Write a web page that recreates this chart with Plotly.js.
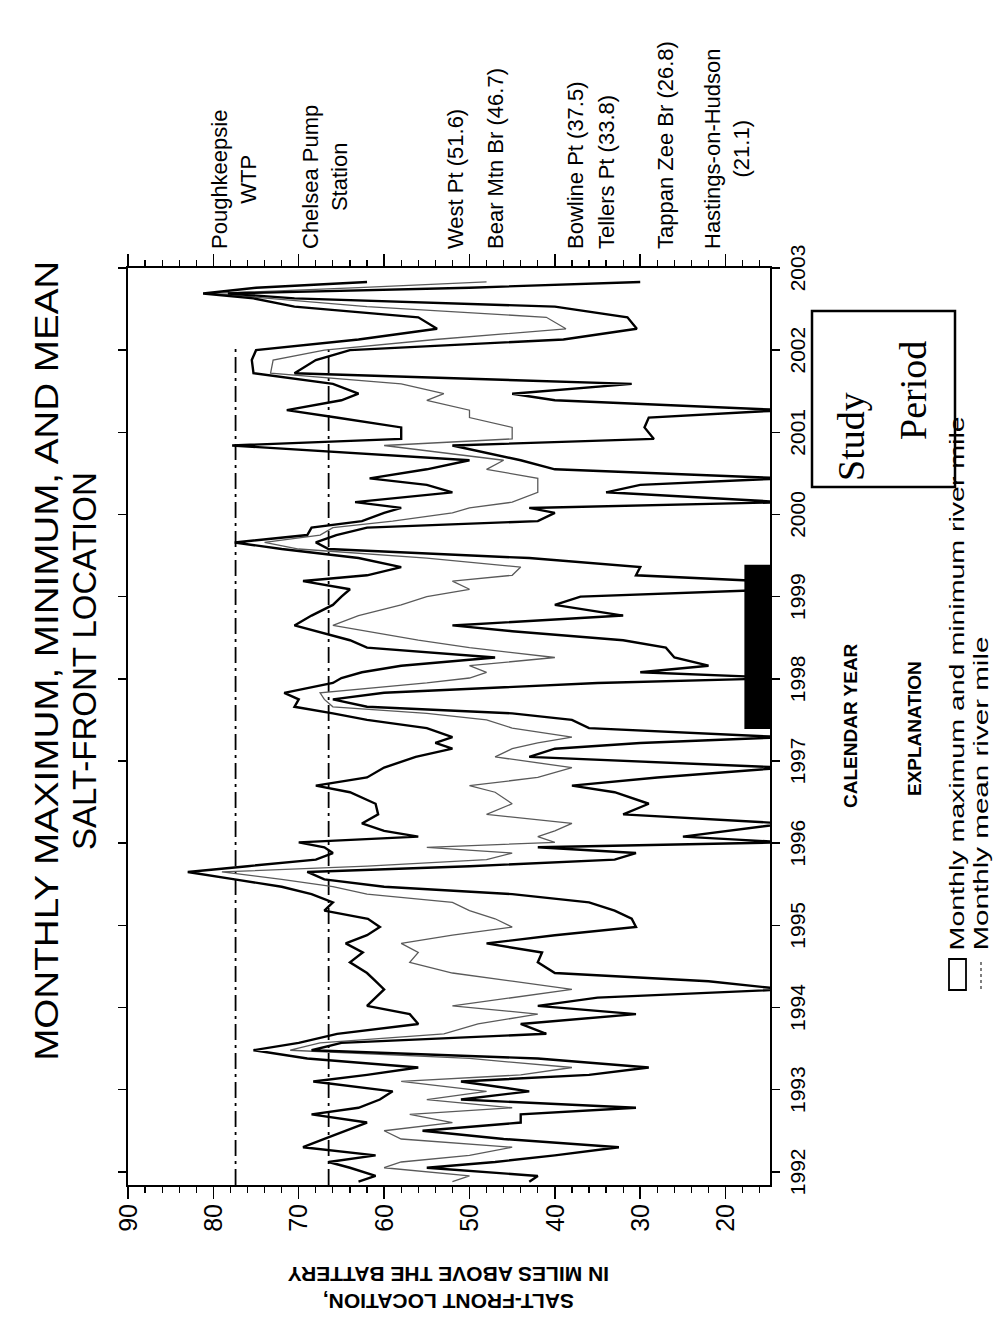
<!DOCTYPE html>
<html><head><meta charset="utf-8">
<script src="https://cdn.plot.ly/plotly-3.0.1.min.js"></script>
<style>
html,body{margin:0;padding:0;background:#fff;overflow:hidden;width:1003px;height:1323px;}
#chart{position:absolute;left:0;top:0;width:1323px;height:1003px;transform-origin:0 0;transform:translate(0px,1323px) rotate(-90deg);}
</style></head><body><div id="chart"></div>
<script>
// decimal calendar year of each reading
const timeYear = [
 1991.88,1991.95,1992.05,1992.12,1992.20,1992.30,1992.40,1992.50,1992.60,1992.70,1992.78,1992.88,1992.98,
 1993.10,1993.18,1993.27,1993.38,1993.48,1993.57,1993.68,1993.80,1993.92,
 1994.02,1994.12,1994.22,1994.32,1994.42,1994.55,1994.67,1994.78,1994.88,1994.98,
 1995.08,1995.18,1995.28,1995.38,1995.47,1995.56,1995.65,1995.72,1995.80,1995.88,1995.95,
 1996.01,1996.08,1996.15,1996.24,1996.35,1996.48,1996.62,1996.70,1996.80,1996.92,
 1997.05,1997.15,1997.22,1997.29,1997.40,1997.50,1997.58,1997.66,1997.75,1997.83,1997.95,
 1998.01,1998.08,1998.16,1998.26,1998.38,1998.47,1998.58,1998.65,1998.77,1998.90,
 1999.00,1999.09,1999.19,1999.26,1999.36,1999.47,1999.58,1999.66,1999.75,1999.84,1999.92,
 2000.02,2000.08,2000.15,2000.27,2000.36,2000.44,2000.55,2000.66,2000.84,2000.92,
 2001.06,2001.18,2001.27,2001.39,2001.47,2001.59,2001.72,2001.88,
 2002.00,2002.13,2002.26,2002.40,2002.53,2002.63,2002.69,2002.76,2002.83
];
// monthly maximum river mile
const maxMile = [
 63,61,64,66.5,61,69.5,67,64.5,62,68.5,63,60.5,59,
 68.3,62,56,69,75.3,70,65.5,56,57,
 62,61,60,61,62,64,62.5,64.5,62,60.5,
 61.9,67,66,68.5,72,77.5,83,76,68,66,67,
 70,56,60,62.6,60.7,61,64,68,62,60,
 56.3,52,54,52,55,62,66,70.5,70,71.7,66,
 65,62.6,58,47,62,64,68,70.5,68.5,66,
 65,64,69.5,62,58,63,72,77.5,69,68.5,62.6,
 60,58,63.4,52,55,61.7,55,50,77.8,58,
 58,65.6,71.4,65,63,66,75.3,75.5,
 75,63,53.8,56,70.5,75.3,81.2,75,62
];
// monthly mean river mile
const meanMile = [
 52,50,60,58,50,45,58,60,52,57,45,55,48,
 58,44,38,50,71,67.5,53,49,42,
 52,45,38,45,52,57,56,58,52,45,
 47,50,52,62,66,72,79,62,48,45,55,
 40,42,40,38,48,45,47,50,42,38,
 47,45,42,38,45,48,55,66,67,67.5,55,
 50,48,50,40,50,56,62,66,63,58,
 55,50,52,45,44,55,70,74,67.5,66,59,
 52,50,45,42,42,42,48,46,60,45,
 45,50,50,55,53,58,73.3,73,
 67,54,38.7,41,62,73,80.2,63,48
];
// monthly minimum river mile
const minMile = [
 43,42,55,47,40,32.5,46,55.5,44,44,30.5,51,43,
 51,36,29,42,68.5,65,41,44,30.5,
 42,35,13,22,40,42,41.5,48,40,30.5,
 31,33,36,45,60,67,69,50,33,30.5,42,
 13,25,20,13,32,29,33,38,28,13,
 43,40,30,13,36,38,45,62,66,60,35,
 13,30,22,26,27,32,45,52,32,40,
 37,13,16,30.5,30,43,66.5,68,65.6,62,42,
 40,43,13,34,30,13,40,44,52,28.4,
 29.5,29,13,40,45,31,70.5,68,
 64,39,30.4,31.5,40,70.5,78.3,50,30
];
const yearTicks = [1992,1993,1994,1995,1996,1997,1998,1999,2000,2001,2002,2003];
const mileTicks = [20,30,40,50,60,70,80,90];
// water-intake reference lines (river mile) and the years they span
const intakeMiles = [77.4, 66.5];
const intakeSpan = [1991.84, 2002.05];
// station labels on the right-hand axis and their river-mile positions
const stationLabels = ['Poughkeepsie<br>WTP','Chelsea Pump<br>Station','West Pt (51.6)','Bear Mtn Br (46.7)',
 'Bowline Pt (37.5)','Tellers Pt (33.8)','Tappan Zee Br (26.8)','Hastings-on-Hudson<br>(21.1)'];
const stationMiles = [77.6, 66.9, 51.6, 46.9, 37.6, 33.9, 27.0, 19.8];
const studyPeriod = [1997.39, 1999.39];

const W = 1323, H = 1003;
const M = {l:138, r:268, t:128, b:233};
const pw = W - M.l - M.r, ph = H - M.t - M.b;
const px = u => (u - M.l) / pw;          // pixel -> paper x
const py = v => (H - M.b - v) / ph;      // pixel -> paper y

const traces = [];
intakeMiles.forEach(m => traces.push({
  x: intakeSpan, y: [m, m], mode: 'lines', hoverinfo: 'skip',
  line: {color: '#000', width: 1.8, dash: '16px,5px,3px,5px'}
}));
traces.push({x: timeYear, y: meanMile, mode: 'lines', line: {color: '#5a5a5a', width: 1.3}});
traces.push({x: timeYear, y: maxMile, mode: 'lines', line: {color: '#000', width: 2.4}});
traces.push({x: timeYear, y: minMile, mode: 'lines', line: {color: '#000', width: 2.4}});

const SANS = 'Liberation Sans, Arial, sans-serif';
const ann = [];
const stretch = {};   // annotation index -> target text length (px)
function add(a, len) { if (len) stretch[ann.length] = len; ann.push(a); }
add({xref:'paper', yref:'paper', x: px(662), y: py(46), text: 'MONTHLY MAXIMUM, MINIMUM, AND MEAN',
  showarrow:false, xanchor:'center', yanchor:'middle', font:{family:SANS, size:33, color:'#000'}}, 800);
add({xref:'paper', yref:'paper', x: px(662), y: py(85), text: 'SALT-FRONT LOCATION',
  showarrow:false, xanchor:'center', yanchor:'middle', font:{family:SANS, size:33, color:'#000'}});
add({xref:'paper', yref:'paper', x: px(35), y: py(449), textangle:-90,
  text:'<b>SALT-FRONT LOCATION,<br>IN MILES ABOVE THE BATTERY</b>', showarrow:false,
  xanchor:'center', yanchor:'middle', align:'center', font:{family:SANS, size:21, color:'#000'}});
add({xref:'paper', yref:'paper', x: px(597), y: py(850), text:'<b>CALENDAR YEAR</b>', showarrow:false,
  xanchor:'center', yanchor:'middle', font:{family:SANS, size:19, color:'#000'}});
add({xref:'paper', yref:'paper', x: px(594), y: py(914), text:'<b>EXPLANATION</b>', showarrow:false,
  xanchor:'center', yanchor:'middle', font:{family:SANS, size:19, color:'#000'}});
// legend texts are centred at start + length/2 so that the stretched text starts at u = 372
add({xref:'paper', yref:'paper', x: px(372 + 534 / 2), y: py(957), text:'Monthly maximum and minimum river mile', showarrow:false,
  xanchor:'center', yanchor:'middle', font:{family:SANS, size:21, color:'#000'}}, 534);
add({xref:'paper', yref:'paper', x: px(372 + 314 / 2), y: py(981), text:'Monthly mean river mile', showarrow:false,
  xanchor:'center', yanchor:'middle', font:{family:SANS, size:21, color:'#000'}}, 314);
add({xref:'paper', yref:'paper', x: px(886), y: py(851), text:'Study', showarrow:false,
  xanchor:'center', yanchor:'middle', font:{family:'Liberation Serif, Times New Roman, serif', size:38, color:'#000'}});
add({xref:'paper', yref:'paper', x: px(932), y: py(913), text:'Period', showarrow:false,
  xanchor:'center', yanchor:'middle', font:{family:'Liberation Serif, Times New Roman, serif', size:38, color:'#000'}});
stationLabels.forEach((t, i) => add({xref:'paper', yref:'y', x: px(1072), y: stationMiles[i], text: t,
  showarrow:false, xanchor:'left', yanchor:'middle', align:'center',
  font:{family:SANS, size:22, color:'#000'}}));

const shapes = [
  {type:'rect', xref:'x', yref:'y', x0: studyPeriod[0], x1: studyPeriod[1], y0: 14.8, y1: 17.8,
   fillcolor:'#000', line:{width:0}},
  {type:'rect', xref:'paper', yref:'paper', x0: px(836), x1: px(1012), y0: py(955), y1: py(812),
   line:{color:'#000', width:2.5}, fillcolor:'rgba(0,0,0,0)'},
  {type:'rect', xref:'paper', yref:'paper', x0: px(333), x1: px(364), y0: py(966), y1: py(949),
   line:{color:'#000', width:1.8}, fillcolor:'rgba(0,0,0,0)'},
  {type:'line', xref:'paper', yref:'paper', x0: px(334), x1: px(364), y0: py(981), y1: py(981),
   line:{color:'#555', width:1.5, dash:'dot'}}
];

const layout = {
  width: W, height: H, margin: M, showlegend: false,
  paper_bgcolor: '#fff', plot_bgcolor: '#fff',
  xaxis: {range: [1991.84, 2003], tickmode:'array', tickvals: yearTicks, ticktext: yearTicks.map(String),
    ticks:'outside', ticklen: 8, tickwidth: 1.5, tickcolor:'#000', showline:true, linewidth:2, linecolor:'#000',
    mirror:'ticks', showgrid:false, zeroline:false,
    tickfont:{family:SANS, size:21, color:'#000'}},
  yaxis: {range: [14.8, 90], tickmode:'array', tickvals: mileTicks, ticktext: mileTicks.map(String),
    ticks:'outside', ticklen: 12, tickwidth: 1.5, tickcolor:'#000', showline:true, linewidth:2, linecolor:'#000',
    mirror:'ticks', showgrid:false, zeroline:false,
    minor:{dtick:2, tick0:0, ticks:'outside', ticklen:6, tickwidth:1.2, tickcolor:'#000', showgrid:false},
    tickfont:{family:SANS, size:25, color:'#000'}},
  annotations: ann, shapes: shapes
};
Plotly.newPlot('chart', traces, layout, {staticPlot:true, displayModeBar:false}).then(gd => {
  const groups = gd.querySelectorAll('.annotation');
  Object.keys(stretch).forEach(k => {
    const g = groups[+k];
    if (!g) return;
    const t = g.querySelector('text.annotation-text');
    if (!t) return;
    t.setAttribute('textLength', stretch[k]);
    t.setAttribute('lengthAdjust', 'spacingAndGlyphs');
  });
});
</script></body></html>
